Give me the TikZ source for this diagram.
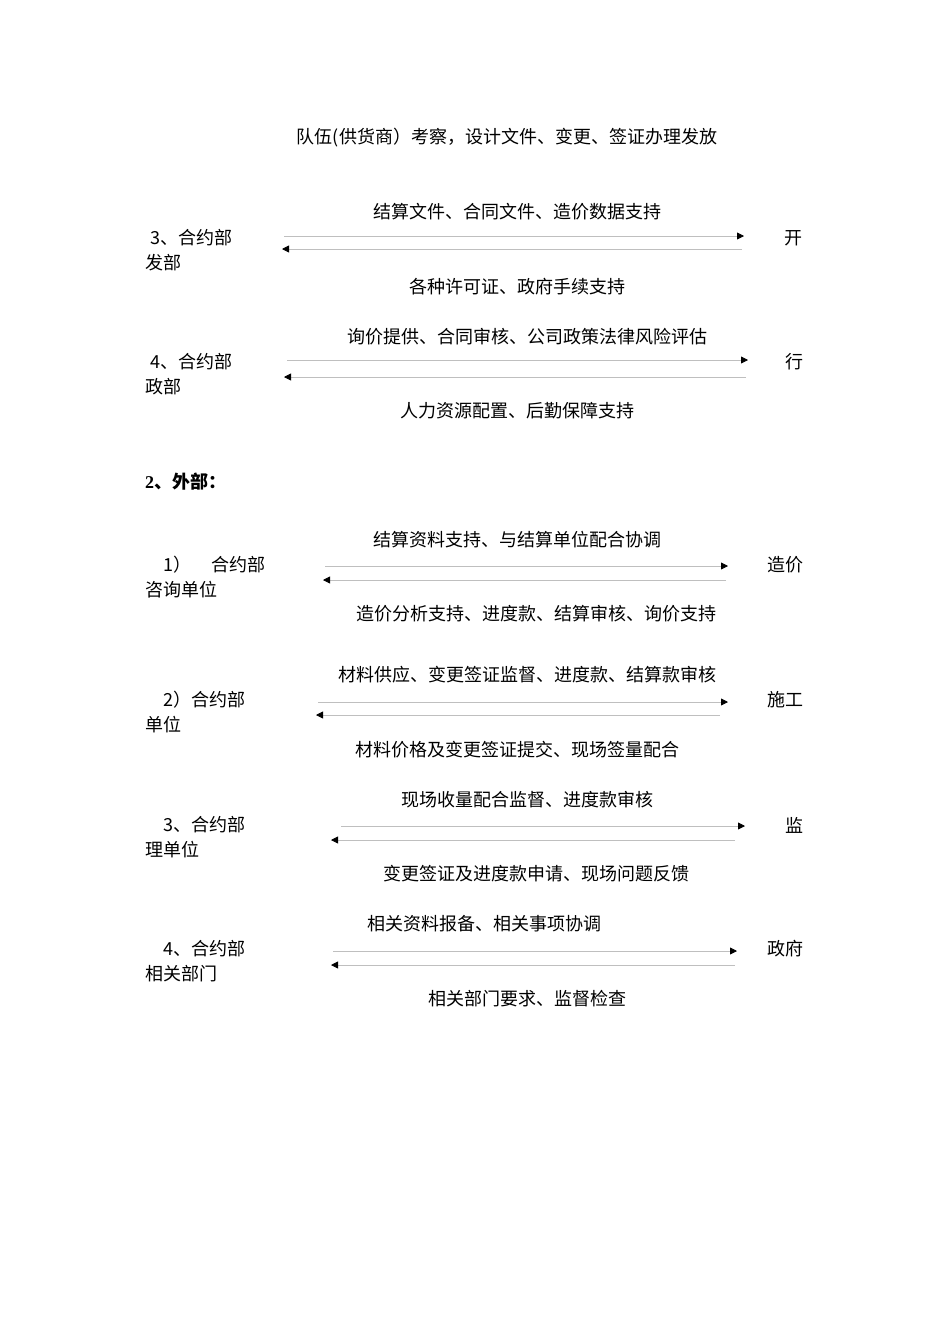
\documentclass[tikz,border=0pt]{standalone}
\usepackage{fontspec}
\setmainfont{Liberation Serif}
\newfontfamily\cjk{Noto Sans CJK SC}
\usetikzlibrary{arrows.meta}
\tikzset{
  txt/.style={inner sep=0pt, font=\cjk\fontsize{18}{18}\selectfont},
  lt/.style={txt, anchor=west},
  ar/.style={draw=black!25, line width=0.8pt, -{Triangle[length=7pt,width=7pt,fill=black,color=black]}},
}
\newcommand\mrow[9]{% y, lx1, l1, l2, ax1, ax2, right, toptext+x, bottext
}
\begin{document}
\begin{tikzpicture}[x=1pt,y=-1pt]
\useasboundingbox (0,0) rectangle (950,1344);
\node[txt] (h) at (507,138) {队伍(供货商）考察，设计文件、变更、签证办理发放};
% row A
\node[txt] (at) at (517,212) {结算文件、合同文件、造价数据支持};
\node[lt] (al1) at (150,238) {3、合约部};
\node[lt] (al2) at (145,263) {发部};
\node[txt] (ar) at (793,238) {开};
\node[txt] (ab) at (517,287) {各种许可证、政府手续支持};
\coordinate (a1) at (284,236); \coordinate (a2) at (744,236);
\coordinate (a3) at (742,249); \coordinate (a4) at (282,249);
\draw[ar] (a1) -- (a2); \draw[ar] (a3) -- (a4);
% row B
\node[txt] (bt) at (527,337) {询价提供、合同审核、公司政策法律风险评估};
\node[lt] (bl1) at (150,362) {4、合约部};
\node[lt] (bl2) at (145,387) {政部};
\node[txt] (br) at (794,362) {行};
\node[txt] (bb) at (517,411) {人力资源配置、后勤保障支持};
\coordinate (b1) at (287,360); \coordinate (b2) at (748,360);
\coordinate (b3) at (746,377); \coordinate (b4) at (284,377);
\draw[ar] (b1) -- (b2); \draw[ar] (b3) -- (b4);
% header 2
\node[lt, font=\bfseries\fontsize{18}{18}\selectfont] (ext) at (145,482) {2\cjk\bfseries 、外部：};
% row 1
\node[txt] (ct) at (517,540) {结算资料支持、与结算单位配合协调};
\node[lt] (cl1) at (163,565) {1）\hspace{20pt}合约部};
\node[lt] (cl2) at (145,590) {咨询单位};
\node[txt] (cr) at (785,565) {造价};
\node[txt] (cb) at (536,614) {造价分析支持、进度款、结算审核、询价支持};
\coordinate (c1) at (325,566); \coordinate (c2) at (728,566);
\coordinate (c3) at (726,580); \coordinate (c4) at (323,580);
\draw[ar] (c1) -- (c2); \draw[ar] (c3) -- (c4);
% row 2
\node[txt] (dt) at (527,675) {材料供应、变更签证监督、进度款、结算款审核};
\node[lt] (dl1) at (163,700) {2）合约部};
\node[lt] (dl2) at (145,725) {单位};
\node[txt] (dr) at (785,700) {施工};
\node[txt] (db) at (517,750) {材料价格及变更签证提交、现场签量配合};
\coordinate (d1) at (318,702); \coordinate (d2) at (728,702);
\coordinate (d3) at (720,715); \coordinate (d4) at (316,715);
\draw[ar] (d1) -- (d2); \draw[ar] (d3) -- (d4);
% row 3
\node[txt] (et) at (527,800) {现场收量配合监督、进度款审核};
\node[lt] (el1) at (163,825) {3、合约部};
\node[lt] (el2) at (145,850) {理单位};
\node[txt] (er) at (794,825) {监};
\node[txt] (eb) at (536,874) {变更签证及进度款申请、现场问题反馈};
\coordinate (e1) at (341,826); \coordinate (e2) at (745,826);
\coordinate (e3) at (735,840); \coordinate (e4) at (331,840);
\draw[ar] (e1) -- (e2); \draw[ar] (e3) -- (e4);
% row 4
\node[txt] (ft) at (484,924) {相关资料报备、相关事项协调};
\node[lt] (fl1) at (163,949) {4、合约部};
\node[lt] (fl2) at (145,974) {相关部门};
\node[txt] (fr) at (785,949) {政府};
\node[txt] (fb) at (527,999) {相关部门要求、监督检查};
\coordinate (f1) at (333,951); \coordinate (f2) at (737,951);
\coordinate (f3) at (735,965); \coordinate (f4) at (331,965);
\draw[ar] (f1) -- (f2); \draw[ar] (f3) -- (f4);
\end{tikzpicture}
\end{document}
